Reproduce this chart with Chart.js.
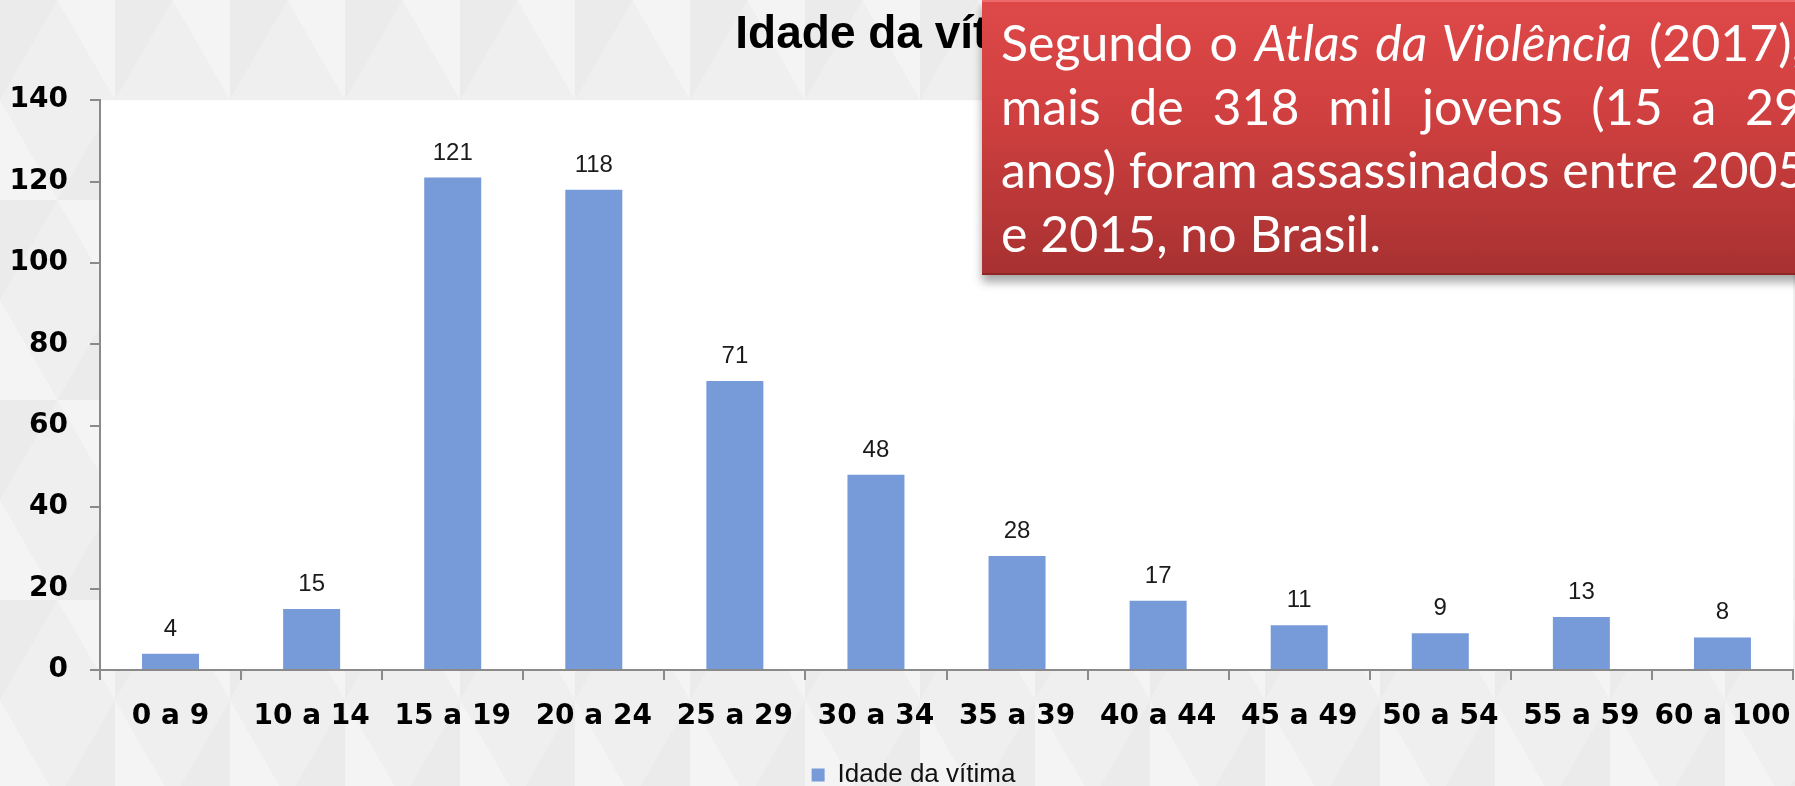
<!DOCTYPE html>
<html lang="pt-BR">
<head>
<meta charset="utf-8">
<title>Idade da vítima</title>
<script src="https://cdn.jsdelivr.net/npm/chart.js@4.4.0/dist/chart.umd.min.js"></script>
<style>
    html, body {
        margin: 0;
        padding: 0;
    }
    body {
        width: 1795px;
        height: 786px;
        overflow: hidden;
        position: relative;
        background-color: #efefef;
        background-image:
            linear-gradient(60deg, rgba(255,255,255,0.3) 25%, transparent 25%, transparent 75%, rgba(255,255,255,0.3) 75%),
            linear-gradient(-60deg, rgba(0,0,0,0.015) 25%, transparent 25%, transparent 75%, rgba(0,0,0,0.015) 75%);
        background-size: 115px 200px;
    }
    #wrap {
        position: absolute;
        left: 0;
        top: 0;
        width: 1795px;
        height: 786px;
    }
    /* caixa vermelha com a nota do Atlas */
    #nota {
        position: absolute;
        left: 982px;
        top: 0;
        width: 900px;
        height: 275px;
        box-sizing: border-box;
        padding: 9px 0 0 19px;
        background: linear-gradient(#de4848 0%, #d14040 40%, #a83131 100%);
        border-top: 2px solid #ec6a6a;
        border-bottom: 2px solid #8e2626;
        box-shadow: 0 7px 9px rgba(0, 0, 0, 0.35);
        color: #fff;
        font-family: Lato, "Open Sans", sans-serif;
        font-size: 50px;
        line-height: 63.5px;
        white-space: nowrap;
    }
    #nota .linha {
        width: 802px;
    }
    #nota .just {
        text-align: justify;
        text-align-last: justify;
    }
</style>
</head>
<body>
<div id="wrap"><canvas id="grafico" width="1795" height="786"></canvas></div>
<div id="nota">
    <div class="linha just">Segundo o <i>Atlas da Violência</i> (2017),</div>
    <div class="linha just">mais de 318 mil jovens (15 a 29</div>
    <div class="linha just">anos) foram assassinados entre 2005</div>
    <div class="linha">e 2015, no Brasil.</div>
</div>
<script>
'use strict'

// faixas etárias e número de vítimas
const faixas = ['0 a 9', '10 a 14', '15 a 19', '20 a 24', '25 a 29', '30 a 34',
    '35 a 39', '40 a 44', '45 a 49', '50 a 54', '55 a 59', '60 a 100']
const vitimas = [4, 15, 121, 118, 71, 48, 28, 17, 11, 9, 13, 8]
const yTicks = [0, 20, 40, 60, 80, 100, 120, 140]

const serieNome = 'Idade da vítima'
const corBarra = '#779ad9'
const corEixo = '#8a8a8a'

// fundo branco só na área do gráfico
const fundoArea = {
    id: 'fundoArea',
    beforeDraw(chart) {
        const { ctx, chartArea } = chart
        ctx.save()
        ctx.fillStyle = '#ffffff'
        ctx.fillRect(chartArea.left, chartArea.top,
            chartArea.right - chartArea.left, chartArea.bottom - chartArea.top)
        ctx.restore()
    }
}

// rótulos com o valor acima de cada barra
const rotulos = {
    id: 'rotulos',
    afterDatasetsDraw(chart) {
        const ctx = chart.ctx
        const meta = chart.getDatasetMeta(0)
        ctx.save()
        ctx.font = '24px "Liberation Sans", Arial, sans-serif'
        ctx.fillStyle = '#1a1a1a'
        ctx.textAlign = 'center'
        ctx.textBaseline = 'alphabetic'
        meta.data.forEach((bar, i) => {
            ctx.fillText(String(vitimas[i]), bar.x, bar.y - 18)
        })
        ctx.restore()
    }
}

// legenda um pouco à direita, como no original
const deslocaLegenda = {
    id: 'deslocaLegenda',
    afterLayout(chart) {
        if (chart.legend) {
            chart.legend.left += 12
            chart.legend.right += 12
        }
    }
}

const ctx = document.getElementById('grafico')

new Chart(ctx, {
    type: 'bar',
    data: {
        labels: faixas,
        datasets: [{
            label: serieNome,
            data: vitimas,
            backgroundColor: corBarra,
            borderWidth: 0,
            barPercentage: 0.404,
            categoryPercentage: 1
        }]
    },
    options: {
        responsive: false,
        animation: false,
        devicePixelRatio: 1,
        layout: {
            padding: { left: 10, right: 2, top: 0, bottom: -12 }
        },
        scales: {
            x: {
                afterFit(axis) {
                    // sem folga lateral para o último rótulo
                    axis.paddingLeft = 0
                    axis.paddingRight = 0
                    axis.height = 786 + 12 - 40 - 670
                },
                grid: {
                    display: true,
                    drawOnChartArea: false,
                    drawTicks: true,
                    tickLength: 10,
                    color: corEixo,
                    lineWidth: 2
                },
                border: { display: true, color: corEixo, width: 2 },
                ticks: {
                    color: '#000',
                    padding: 20,
                    maxRotation: 0,
                    autoSkip: false,
                    font: { family: '"DejaVu Sans", sans-serif', size: 28, weight: 'bold' }
                }
            },
            y: {
                min: yTicks[0],
                max: yTicks[yTicks.length - 1],
                afterBuildTicks(axis) {
                    axis.ticks = yTicks.map(v => ({ value: v }))
                },
                afterFit(axis) {
                    axis.width = 90
                },
                grid: {
                    display: true,
                    drawOnChartArea: false,
                    drawTicks: true,
                    tickLength: 10,
                    color: corEixo,
                    lineWidth: 2
                },
                border: { display: true, color: corEixo, width: 2 },
                ticks: {
                    color: '#000',
                    padding: 22,
                    font: { family: '"DejaVu Sans", sans-serif', size: 28, weight: 'bold' }
                }
            }
        },
        plugins: {
            title: {
                display: true,
                text: serieNome,
                color: '#000',
                font: { family: '"Liberation Sans", Arial, sans-serif', size: 46, weight: 'bold' },
                padding: { top: 8, bottom: 37 }
            },
            legend: {
                display: true,
                position: 'bottom',
                labels: {
                    color: '#111',
                    boxWidth: 13,
                    boxHeight: 13,
                    padding: 4,
                    font: { family: '"Liberation Sans", Arial, sans-serif', size: 26 }
                }
            },
            tooltip: { enabled: false }
        }
    },
    plugins: [fundoArea, rotulos, deslocaLegenda]
})
</script>
</body>
</html>
